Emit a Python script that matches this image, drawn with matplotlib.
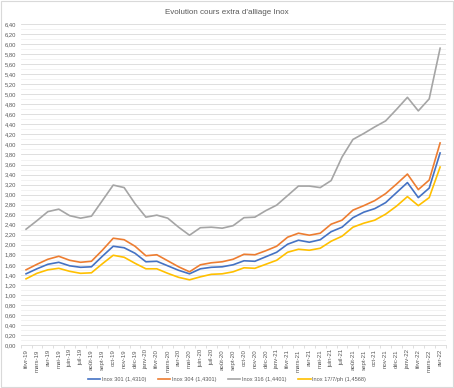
import numpy as np
import matplotlib.pyplot as plt
from matplotlib.patches import Rectangle

plt.rcParams['font.family'] = ['Liberation Sans', 'DejaVu Sans']

months = ["févr-19", "mars-19", "avr-19", "mai-19", "juin-19", "juil-19", "août-19",
          "sept-19", "oct-19", "nov-19", "déc-19",
          "janv-20", "févr-20", "mars-20", "avr-20", "mai-20", "juin-20", "juil-20",
          "août-20", "sept-20", "oct-20", "nov-20", "déc-20",
          "janv-21", "févr-21", "mars-21", "avr-21", "mai-21", "juin-21", "juil-21",
          "août-21", "sept-21", "oct-21", "nov-21", "déc-21",
          "janv-22", "févr-22", "mars-22", "avr-22"]

inox_301 = [1.42, 1.52, 1.61, 1.65, 1.58, 1.55, 1.56, 1.77, 1.97, 1.94, 1.83,
            1.66, 1.67, 1.58, 1.49, 1.42, 1.52, 1.55, 1.56, 1.60, 1.68, 1.67, 1.76,
            1.85, 2.01, 2.09, 2.05, 2.10, 2.26, 2.35, 2.54, 2.65, 2.72, 2.84, 3.04,
            3.24, 2.94, 3.13, 3.83]
inox_304 = [1.50, 1.61, 1.71, 1.77, 1.69, 1.65, 1.67, 1.89, 2.13, 2.10, 1.97,
            1.78, 1.80, 1.68, 1.56, 1.46, 1.60, 1.64, 1.66, 1.71, 1.81, 1.80, 1.88,
            1.97, 2.15, 2.23, 2.19, 2.23, 2.41, 2.49, 2.69, 2.78, 2.88, 3.02, 3.21,
            3.41, 3.10, 3.29, 4.03]
inox_316 = [2.31, 2.48, 2.66, 2.71, 2.58, 2.53, 2.57, 2.88, 3.19, 3.14, 2.82,
            2.55, 2.59, 2.53, 2.35, 2.19, 2.34, 2.35, 2.33, 2.38, 2.54, 2.55, 2.68,
            2.79, 2.98, 3.17, 3.17, 3.14, 3.28, 3.75, 4.10, 4.22, 4.35, 4.47, 4.70,
            4.94, 4.67, 4.91, 5.92]
inox_17_7 = [1.32, 1.43, 1.50, 1.53, 1.47, 1.43, 1.44, 1.62, 1.79, 1.75, 1.63,
             1.52, 1.52, 1.43, 1.35, 1.30, 1.36, 1.41, 1.42, 1.46, 1.54, 1.53, 1.61,
             1.69, 1.85, 1.91, 1.89, 1.93, 2.07, 2.17, 2.35, 2.43, 2.49, 2.61, 2.77,
             2.96, 2.78, 2.94, 3.55]

series = [("Inox 301 (1,4310)", inox_301, "#4472C4"),
          ("Inox 304 (1,4301)", inox_304, "#ED7D31"),
          ("Inox 316 (1,4401)", inox_316, "#A5A5A5"),
          ("Inox 17/7/ph (1,4568)", inox_17_7, "#FFC000")]

fig = plt.figure(figsize=(4.54, 3.88), dpi=100)
fig.patches.append(Rectangle((0.002, 0.003), 0.995, 0.994, transform=fig.transFigure,
                             fill=False, edgecolor="#D9D9D9", linewidth=0.8))
ax = fig.add_axes([0.0454, 0.1108, 0.936, 0.827])

x = np.arange(len(months))
for name, vals, col in series:
    ax.plot(x, vals, color=col, linewidth=1.2, label=name)

ax.set_xlim(-0.5, len(months) - 0.5)
ax.set_ylim(0, 6.4)
ax.set_yticks(np.arange(0, 6.41, 0.2))
ax.set_yticks(np.arange(0.1, 6.4, 0.2), minor=True)
ax.set_yticklabels([f"{v:.2f}".replace(".", ",") for v in np.arange(0, 6.41, 0.2)],
                   fontsize=4.2, color="#595959")
ax.set_xticks(x)
ax.set_xticklabels(months, rotation=90, fontsize=4.4, color="#595959")
ax.set_xticks(np.arange(-0.5, len(months), 1), minor=True)
ax.tick_params(axis="y", which="both", length=0, pad=3)
ax.tick_params(axis="x", which="major", length=0, pad=3)
ax.tick_params(axis="x", which="minor", length=2, color="#D9D9D9")
ax.grid(axis="y", which="major", color="#D9D9D9", linewidth=0.6)
ax.grid(axis="y", which="minor", color="#F0F0F0", linewidth=0.6)
ax.set_axisbelow(True)
for s in ["top", "right", "left"]:
    ax.spines[s].set_visible(False)
ax.spines["bottom"].set_color("#D9D9D9")
ax.spines["bottom"].set_linewidth(0.6)

fig.text(0.5, 0.967, "Evolution cours extra d'alliage Inox", ha="center", va="center",
         fontsize=5.8, color="#595959")
fig.legend(loc="center", bbox_to_anchor=(0.5, 0.023), ncol=4, frameon=False,
           fontsize=4.1, handlelength=2.2, columnspacing=2.0, labelcolor="#595959",
           handletextpad=0.3)

fig.savefig("out.png", dpi=100)
